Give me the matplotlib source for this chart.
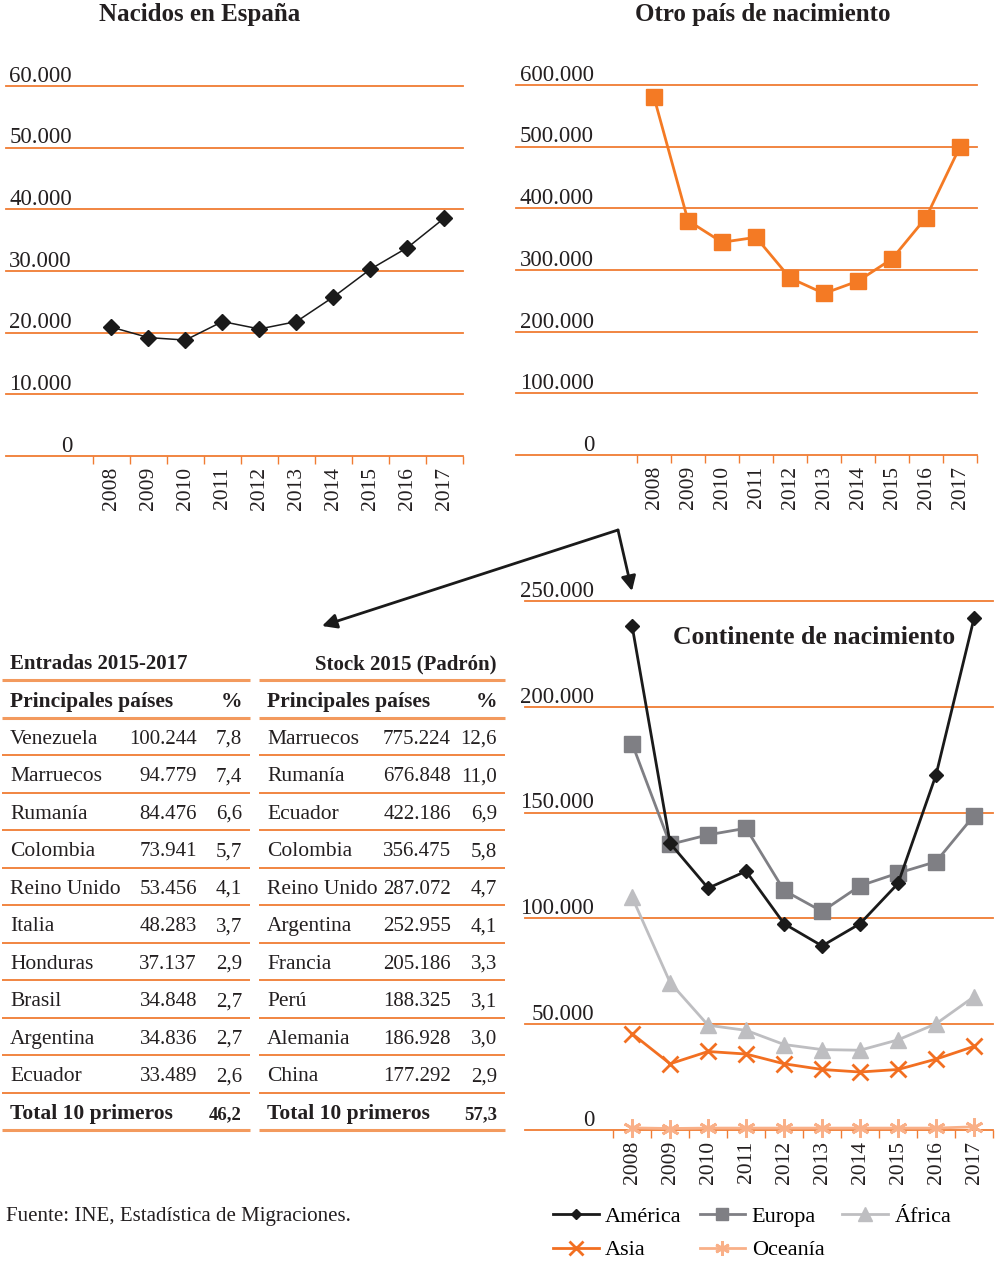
import numpy as np
import matplotlib
matplotlib.use("Agg")
import matplotlib.pyplot as plt

plt.rcParams["font.family"] = ["Liberation Serif", "DejaVu Serif"]

W, H = 998, 1266
ORANGE = "#F07C33"
TXT = "#231F20"

# ── Data ─────────────────────────────────────────────────────────────────────
YEARS = [str(y) for y in range(2008, 2018)]
ESPANA = [20900, 19200, 18800, 21800, 20600, 21800, 25800, 30300, 33800, 38600]
OTRO = [580000, 380000, 345000, 353000, 287000, 262000, 282000, 318000, 385000, 500000]

AMERICA = [238200, 135500, 114300, 122300, 97500, 87000, 97500, 116500, 167800, 241800]
EUROPA = [182600, 135000, 139500, 142600, 113200, 103300, 115400, 121400, 126800, 148600]
AFRICA = [110000, 69700, 49500, 47100, 40400, 38000, 37700, 42600, 50200, 63000]
ASIA = [45500, 31300, 37100, 35900, 31300, 28600, 27400, 28600, 33500, 39500]
OCEANIA = [1000, 700, 900, 900, 900, 900, 900, 900, 900, 1500]

ENT_PAISES = ["Venezuela", "Marruecos", "Rumanía", "Colombia", "Reino Unido",
              "Italia", "Honduras", "Brasil", "Argentina", "Ecuador"]
ENT_VALORES = [100244, 94779, 84476, 73941, 53456, 48283, 37137, 34848, 34836, 33489]
ENT_PCT = [7.8, 7.4, 6.6, 5.7, 4.1, 3.7, 2.9, 2.7, 2.7, 2.6]
ENT_TOTAL = 46.2

STK_PAISES = ["Marruecos", "Rumanía", "Ecuador", "Colombia", "Reino Unido",
              "Argentina", "Francia", "Perú", "Alemania", "China"]
STK_VALORES = [775224, 676848, 422186, 356475, 287072, 252955, 205186, 188325, 186928, 177292]
STK_PCT = [12.6, 11.0, 6.9, 5.8, 4.7, 4.1, 3.3, 3.1, 3.0, 2.9]
STK_TOTAL = 57.3


def fmt_miles(v):
    return f"{v:,}".replace(",", ".")


def fmt_pct(v):
    return f"{v:.1f}".replace(".", ",")


fig = plt.figure(figsize=(W / 100, H / 100), dpi=100)

# pixel-coordinate canvas for table, titles and arrows
bg = fig.add_axes([0, 0, 1, 1])
bg.set_xlim(0, W)
bg.set_ylim(H, 0)
bg.axis("off")


def chart_axes(left, top, right, bottom, xmin, ymax, step, label_right):
    ax = fig.add_axes([left / W, 1 - bottom / H, (right - left) / W, (bottom - top) / H])
    ax.patch.set_alpha(0)
    ax.set_xlim(xmin, 9.5)
    ax.set_ylim(0, ymax)
    for s in ax.spines.values():
        s.set_visible(False)
    ticks = list(range(0, ymax + 1, step))
    ax.set_yticks([])
    for v in ticks:
        ax.axhline(v, color=ORANGE, lw=1.3, clip_on=False, zorder=1)
    xf = (label_right - left) / (right - left)
    for v in ticks:
        ax.annotate(fmt_miles(v), xy=(xf, v), xycoords=ax.get_yaxis_transform(),
                    xytext=(0, 3), textcoords="offset points", ha="right",
                    va="baseline", fontsize=16.5, color=TXT)
    ax.set_xticks(range(len(YEARS)))
    ax.set_xticklabels(YEARS, rotation=90, fontsize=15.5, color=TXT)
    ax.set_xticks(np.arange(-0.5, len(YEARS), 1), minor=True)
    ax.tick_params(axis="x", which="major", length=0, pad=8)
    ax.tick_params(axis="x", which="minor", length=6, color=ORANGE, width=1)
    return ax


# ── Nacidos en España ────────────────────────────────────────────────────────
ax1 = chart_axes(6, 86, 463, 456, -2.85, 60000, 10000, 72)
ax1.plot(range(10), ESPANA, color="#1A1A1A", lw=1.1, marker="D", ms=8.5,
         clip_on=False, zorder=3)
fig.text(200 / W, 1 - 15 / H, "Nacidos en España", ha="center", va="center",
         fontsize=18, fontweight="bold", color=TXT)

# ── Otro país de nacimiento ──────────────────────────────────────────────────
ax2 = chart_axes(516, 85, 977, 455, -4.06, 600000, 100000, 594)
ax2.plot(range(10), OTRO, color="#F47A24", lw=2, marker="s", ms=11.5,
         clip_on=False, zorder=3)
fig.text(763 / W, 1 - 15 / H, "Otro país de nacimiento", ha="center", va="center",
         fontsize=18, fontweight="bold", color=TXT)

# ── Continente de nacimiento ─────────────────────────────────────────────────
ax3 = chart_axes(525, 601, 993, 1130, -2.82, 250000, 50000, 594)
x = range(10)
l_am, = ax3.plot(x, AMERICA, color="#1A1A1A", lw=2, marker="D", ms=7,
                 clip_on=False, zorder=6, label="América")
l_eu, = ax3.plot(x, EUROPA, color="#7F7F84", lw=2, marker="s", ms=11,
                 clip_on=False, zorder=5, label="Europa")
l_af, = ax3.plot(x, AFRICA, color="#BEBEC1", lw=2, marker="^", ms=12,
                 clip_on=False, zorder=4, label="África")
l_as, = ax3.plot(x, ASIA, color="#F26F21", lw=2, marker="x", ms=12, mew=2,
                 clip_on=False, zorder=3, label="Asia")
l_oc, = ax3.plot(x, OCEANIA, color="#F9B088", lw=2, marker=(6, 2, 0), ms=13, mew=2,
                 clip_on=False, zorder=3, label="Oceanía")
bg.text(814, 638, "Continente de nacimiento", ha="center", va="center",
        fontsize=18.5, fontweight="bold", color=TXT)

handles = [l_am, l_as, l_eu, l_oc, l_af]
fig.legend(handles, [h.get_label() for h in handles], loc="upper left",
           bbox_to_anchor=(553 / W, 1 - 1206 / H), ncol=3, frameon=False,
           fontsize=16, handlelength=2.05, handletextpad=0.3, columnspacing=0.8,
           borderpad=0, borderaxespad=0, labelspacing=0.6, markerscale=0.8)

# ── Arrows ───────────────────────────────────────────────────────────────────
arrow = dict(arrowstyle="-|>", color="#1A1A1A", lw=2, mutation_scale=22,
             shrinkA=0, shrinkB=0)
bg.annotate("", xy=(322, 626), xytext=(618, 530), arrowprops=arrow)
bg.annotate("", xy=(632, 591), xytext=(618, 530), arrowprops=arrow)

# ── Tables ───────────────────────────────────────────────────────────────────
LINES_Y = [680 + 37.5 * k for k in range(13)]
TABLES = [
    (2, 250, 10, 197, 242, "Entradas 2015-2017", "left",
     ENT_PAISES, ENT_VALORES, ENT_PCT, ENT_TOTAL),
    (259, 505, 267, 451, 497, "Stock 2015 (Padrón)", "right",
     STK_PAISES, STK_VALORES, STK_PCT, STK_TOTAL),
]
for x0, x1, xn, xv, xp, title, align, paises, valores, pct, total in TABLES:
    bg.text(xn if align == "left" else xp, 664, title, ha=align, va="center",
            fontsize=15, fontweight="bold", color=TXT)
    for k, y in enumerate(LINES_Y):
        thick = k in (0, 1, 12)
        bg.plot([x0, x1], [y, y], color="#F39A5E" if thick else ORANGE,
                lw=2.2 if thick else 1.3, solid_capstyle="butt")
    bg.text(xn, 702, "Principales países", ha="left", va="center",
            fontsize=15.5, fontweight="bold", color=TXT)
    bg.text(xp, 702, "%", ha="right", va="center", fontsize=15.5,
            fontweight="bold", color=TXT)
    for i, (p, v, q) in enumerate(zip(paises, valores, pct)):
        yc = (LINES_Y[i + 1] + LINES_Y[i + 2]) / 2 + 3
        bg.text(xn, yc, p, ha="left", va="center", fontsize=15.5, color=TXT)
        bg.text(xv, yc, fmt_miles(v), ha="right", va="center", fontsize=15, color=TXT)
        bg.text(xp, yc, fmt_pct(q), ha="right", va="center", fontsize=15, color=TXT)
    yt = (LINES_Y[11] + LINES_Y[12]) / 2 + 3
    bg.text(xn, yt, "Total 10 primeros", ha="left", va="center", fontsize=15.5,
            fontweight="bold", color=TXT)
    bg.text(xp, yt, fmt_pct(total), ha="right", va="center", fontsize=13.5,
            fontweight="bold", color=TXT)

bg.text(6, 1217, "Fuente: INE, Estadística de Migraciones.", ha="left",
        va="center", fontsize=15, color=TXT)

fig.savefig("out.png", dpi=100)
